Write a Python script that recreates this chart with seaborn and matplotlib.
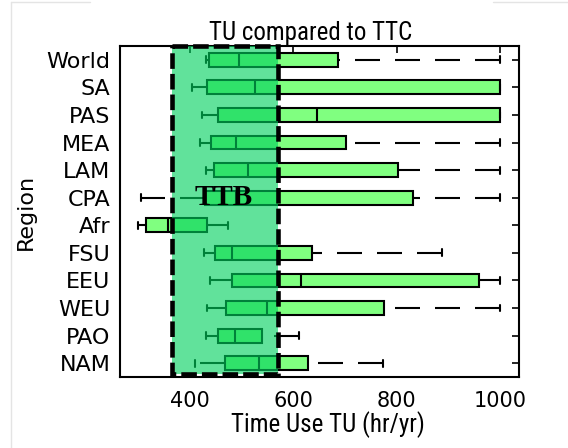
import numpy as np
import pandas as pd
import matplotlib
matplotlib.use("Agg")
import matplotlib.pyplot as plt
import matplotlib.font_manager as fm
from matplotlib.patches import Rectangle
from matplotlib.lines import Line2D
import seaborn as sns

# ---------------- data ----------------
regions = ['World', 'SA', 'PAS', 'MEA', 'LAM', 'CPA', 'Afr', 'FSU', 'EEU', 'WEU', 'PAO', 'NAM']
whisker_low = [431, 404, 424, 419, 432, 305, 299, 428, 439, 434, 432, 411]
q1 = [437, 434, 454, 441, 447, 430, 315, 448, 481, 470, 455, 468]
median = [495, 526, 647, 489, 512, 490, 357, 482, 615, 550, 487, 534]
q3 = [686, 1000, 1000, 703, 803, 832, 434, 637, 960, 776, 540, 629]
whisker_high = [1000, 1000, 1000, 1000, 1000, 1000, 474, 887, 1000, 1000, 611, 774]
x_ticks = [400, 600, 800, 1000]
ttb_low, ttb_high = 365, 570
ttb_label = 'TTB'
ttb_label_x = 466
ttb_label_region = 'CPA'

# five summary values per region -> quartiles are recovered exactly
rows = []
for r, a, b, c, d, e in zip(regions, whisker_low, q1, median, q3, whisker_high):
    for v in (a, b, c, d, e):
        rows.append({'Region': r, 'TU': v})
df = pd.DataFrame(rows)

# ---------------- fonts ----------------
def find_condensed():
    cands = []
    for f in fm.fontManager.ttflist:
        st = str(f.stretch).lower()
        nm = f.name.lower()
        cond = ('condensed' in st or 'narrow' in nm or 'condensed' in nm
                or (isinstance(f.stretch, int) and f.stretch < 500))
        if not cond:
            continue
        if f.style != 'normal':
            continue
        w = f.weight if isinstance(f.weight, int) else {'normal': 400, 'regular': 400, 'book': 400}.get(str(f.weight).lower(), 700)
        if w != 400:
            continue
        if 'serif' in nm and 'sans' not in nm:
            continue
        if 'mono' in nm:
            continue
        rank = 5
        for i, key in enumerate(['liberation sans narrow', 'roboto condensed', 'open sans condensed',
                                 'noto sans', 'dejavu sans', 'liberation', 'roboto']):
            if key in nm:
                rank = i
                break
        cands.append((rank, f.fname))
    if cands:
        cands.sort()
        return fm.FontProperties(fname=cands[0][1])
    return fm.FontProperties(family='Liberation Sans')

sns.set_theme(style='white')
plt.rcParams['font.family'] = ['DejaVu Sans']
narrow_fp = find_condensed()

fig = plt.figure(figsize=(5.68, 4.48), dpi=100)
ax = fig.add_axes([0.2113, 0.1585, 0.7025, 0.7388])

lw = 1.5
sns.boxplot(data=df, x='TU', y='Region', order=regions, orient='h',
            whis=(0, 100), width=0.5, color='#80FF80', saturation=1,
            linecolor='black', linewidth=lw, fliersize=0, ax=ax,
            whiskerprops={'linestyle': (0, (12, 7.2))},
            medianprops={'color': 'black'})

# MATLAB-like dash phase: upper whisker pattern starts at the cap end
for ln in ax.lines:
    xd = np.asarray(ln.get_xdata(), dtype=float)
    if ln.get_linestyle() not in ('-', 'None') and len(xd) == 2 and xd[1] > xd[0]:
        ln.set_xdata(xd[::-1])

ax.set_xlim(265, 1037)
ax.set_ylim(11.5, -0.5)
ax.set_xticks(x_ticks)
ax.set_xticklabels([str(t) for t in x_ticks])

# TTB band
ymin, ymax = -0.5, 11.4
ax.add_patch(Rectangle((ttb_low, ymin), ttb_high - ttb_low, ymax - ymin,
                       facecolor=(0.0, 0.82, 0.37), alpha=0.62, edgecolor='none',
                       zorder=10, clip_on=False))
ax.add_patch(Rectangle((ttb_low, ymin), ttb_high - ttb_low, ymax - ymin,
                       facecolor='none', edgecolor='black', linewidth=3.3,
                       linestyle=(0, (3.4, 1.1)), zorder=11, clip_on=False))
ax.text(ttb_label_x, regions.index(ttb_label_region), ttb_label,
        family='Liberation Serif', fontweight='bold', fontsize=21,
        ha='center', va='center', zorder=12, color='black')

# axes decorations
for s in ax.spines.values():
    s.set_visible(True)
    s.set_color('black')
    s.set_linewidth(1.5)
ax.tick_params(axis='both', direction='in', top=True, right=True, length=5,
               width=1.2, color='black')
ax.tick_params(axis='y', labelsize=16, pad=7)
ax.tick_params(axis='x', labelsize=15, pad=10)
for lab in ax.get_xticklabels() + ax.get_yticklabels():
    lab.set_color('black')

fp_title = narrow_fp.copy()
fp_title.set_size(18)
fp_xlab = narrow_fp.copy()
fp_xlab.set_size(18)
ax.set_title('TU compared to TTC', fontproperties=fp_title, pad=4, x=0.477,
             color='black')
ax.set_xlabel('Time Use TU (hr/yr)', fontproperties=fp_xlab, labelpad=0,
              x=0.52, color='black')
ax.set_ylabel('Region', fontsize=16, color='black')
ax.yaxis.set_label_coords(-0.21, 0.5)

# faint frame lines of the original screenshot
c = '#e4e4e4'
fig.add_artist(Line2D([11/568, 11/568], [0, 1 - 2/448], color=c, lw=1))
fig.add_artist(Line2D([11/568, 90/568], [1 - 2/448, 1 - 2/448], color=c, lw=1))
fig.add_artist(Line2D([493/568, 1], [1 - 2/448, 1 - 2/448], color=c, lw=1))

fig.savefig('out.png', dpi=100)
